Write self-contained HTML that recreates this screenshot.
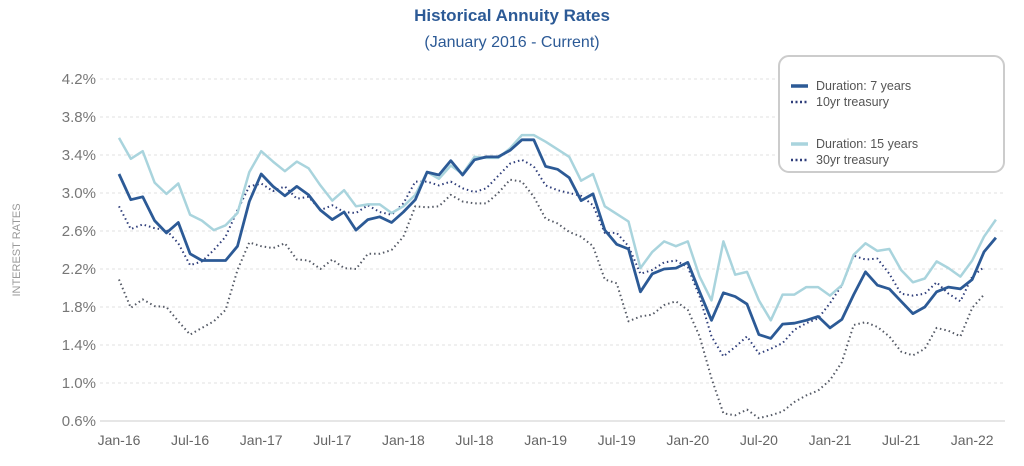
<!DOCTYPE html>
<html><head><meta charset="utf-8"><style>
body{margin:0;background:#fff;font-family:"Liberation Sans",sans-serif;}
svg{display:block}
</style></head><body>
<svg id="chart" width="1024" height="466" viewBox="0 0 1024 466">
<text x="512" y="21" text-anchor="middle" font-size="17" font-weight="bold" fill="#2c5a96">Historical Annuity Rates</text>
<text x="512" y="47" text-anchor="middle" font-size="16" fill="#2c5a96">(January 2016 - Current)</text>
<text transform="translate(20,250) rotate(-90)" text-anchor="middle" font-size="11" fill="#999">INTEREST RATES</text>
<g id="grid"></g>
<g id="series"></g>
<g>
<rect x="779" y="56" width="225" height="116" rx="10" fill="#fff" stroke="#ccc" stroke-width="2"/>
<line x1="791" y1="86" x2="808" y2="86" stroke="#2c5a96" stroke-width="3.5"/>
<text x="816" y="90" font-size="12.5" fill="#555">Duration: 7 years</text>
<line x1="791" y1="102" x2="808" y2="102" stroke="#2e3d7a" stroke-width="2.5" stroke-dasharray="2,2.5"/>
<text x="816" y="106" font-size="12.5" fill="#555">10yr treasury</text>
<line x1="791" y1="144" x2="808" y2="144" stroke="#a9d4dd" stroke-width="3.5"/>
<text x="816" y="148" font-size="12.5" fill="#555">Duration: 15 years</text>
<line x1="791" y1="160" x2="808" y2="160" stroke="#2e3d7a" stroke-width="2.5" stroke-dasharray="2,2.5"/>
<text x="816" y="164" font-size="12.5" fill="#555">30yr treasury</text>
</g>
</svg>
<script>
const yTicks=[0.6,1.0,1.4,1.8,2.2,2.6,3.0,3.4,3.8,4.2];
const xLabels=["Jan-16","Jul-16","Jan-17","Jul-17","Jan-18","Jul-18","Jan-19","Jul-19","Jan-20","Jul-20","Jan-21","Jul-21","Jan-22"];
const dur7=[3.20,2.93,2.96,2.71,2.58,2.69,2.36,2.29,2.29,2.29,2.44,2.91,3.20,3.07,2.97,3.07,2.98,2.82,2.72,2.80,2.61,2.72,2.75,2.69,2.80,2.93,3.22,3.19,3.34,3.19,3.35,3.38,3.38,3.45,3.56,3.56,3.28,3.25,3.16,2.92,2.99,2.61,2.46,2.41,1.96,2.15,2.20,2.21,2.27,1.96,1.66,1.95,1.91,1.83,1.51,1.47,1.62,1.63,1.66,1.70,1.58,1.67,1.93,2.17,2.03,1.99,1.86,1.73,1.80,1.96,2.01,1.99,2.09,2.38,2.53];
const dur15=[3.58,3.36,3.44,3.11,2.99,3.10,2.77,2.71,2.61,2.66,2.79,3.22,3.44,3.33,3.23,3.33,3.26,3.08,2.92,3.03,2.86,2.88,2.88,2.79,2.86,2.98,3.22,3.15,3.29,3.20,3.38,3.37,3.37,3.47,3.61,3.61,3.54,3.46,3.38,3.13,3.20,2.86,2.78,2.70,2.21,2.38,2.49,2.44,2.49,2.12,1.87,2.49,2.14,2.17,1.87,1.66,1.93,1.93,2.01,2.01,1.92,2.03,2.35,2.47,2.39,2.41,2.19,2.06,2.10,2.28,2.21,2.12,2.29,2.54,2.72];
const treasuryUpper=[2.86,2.62,2.67,2.63,2.61,2.47,2.24,2.28,2.40,2.54,2.82,3.07,3.10,3.02,3.07,2.94,2.96,2.82,2.87,2.80,2.79,2.87,2.80,2.77,2.89,3.12,3.12,3.08,3.12,3.05,3.01,3.05,3.18,3.31,3.35,3.28,3.08,3.03,3.00,2.97,2.87,2.58,2.58,2.44,2.15,2.19,2.27,2.29,2.22,1.91,1.49,1.28,1.38,1.49,1.31,1.36,1.42,1.56,1.63,1.68,1.84,2.03,2.34,2.30,2.31,2.15,1.94,1.92,1.94,2.06,1.94,1.86,2.12,2.22];
const treasuryLower=[2.09,1.79,1.88,1.81,1.80,1.65,1.51,1.58,1.65,1.77,2.19,2.48,2.44,2.42,2.47,2.30,2.29,2.20,2.30,2.21,2.20,2.36,2.36,2.40,2.54,2.86,2.85,2.86,2.98,2.91,2.89,2.89,3.00,3.14,3.12,2.96,2.73,2.68,2.59,2.54,2.44,2.09,2.05,1.65,1.70,1.72,1.82,1.86,1.77,1.49,1.05,0.68,0.66,0.72,0.63,0.66,0.70,0.80,0.87,0.92,1.03,1.22,1.61,1.64,1.59,1.49,1.33,1.29,1.36,1.58,1.55,1.49,1.79,1.93];
const NS="http://www.w3.org/2000/svg";
const x=i=>119+i*11.85;
const y=v=>421-(v-0.6)*95;
const grid=document.getElementById('grid'),ser=document.getElementById('series');
function mk(tag,attrs,parent){const e=document.createElementNS(NS,tag);for(const k in attrs)e.setAttribute(k,attrs[k]);parent.appendChild(e);return e;}
yTicks.forEach((t,k)=>{
 const l=mk('line',{x1:100,x2:1005,y1:y(t),y2:y(t),stroke:k===0?'#ddd':'#e2e2e2','stroke-width':k===0?1.5:1,'stroke-dasharray':k===0?'':'3,3'},grid);
 
 
 const tx=mk('text',{x:96,y:y(t)+5,'text-anchor':'end','font-size':15,fill:'#777'},grid);
 tx.textContent=t.toFixed(1)+'%';
 
 
});
xLabels.forEach((s,k)=>{
 const tx=mk('text',{x:x(k*6),y:445,'text-anchor':'middle','font-size':14,fill:'#666'},grid);
 tx.textContent=s;
 
 
});
function line(arr,color,w,dash,name){
 const d=arr.map((v,i)=>(i?'L':'M')+x(i).toFixed(1)+','+y(v).toFixed(1)).join('');
 const p=mk('path',{d:d,fill:'none',stroke:color,'stroke-width':w,'stroke-linejoin':'round','stroke-dasharray':dash},ser);
 
 
}
line(treasuryLower,'#555a66',2,'1.5,3','line-lower-treasury');
line(treasuryUpper,'#2e3d7a',2,'1.5,3','line-upper-treasury');
line(dur15,'#a9d4dd',2.5,'','line-duration-15');
line(dur7,'#2c5a96',2.8,'','line-duration-7');
</script>
</body></html>
